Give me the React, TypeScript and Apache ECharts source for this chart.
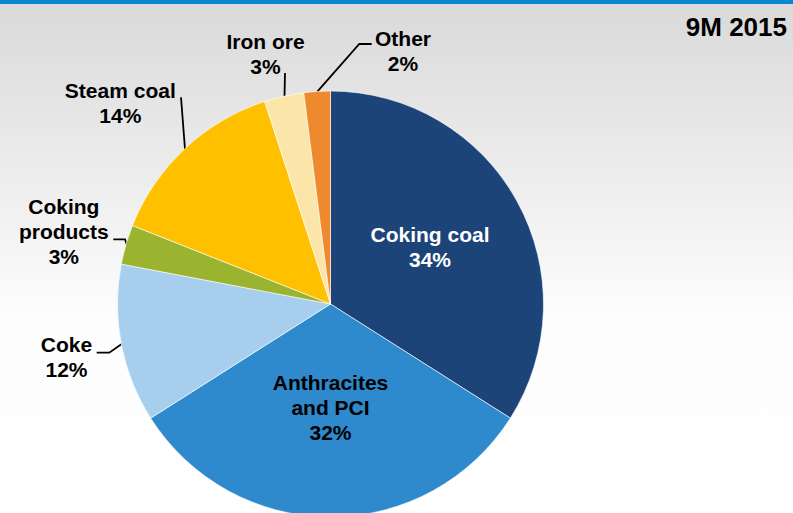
import React, { useEffect, useRef } from "react";
import * as echarts from "echarts";

const categories = [
  "Coking coal",
  "Anthracites and PCI",
  "Coke",
  "Coking products",
  "Steam coal",
  "Iron ore",
  "Other",
];
const shares = [34, 32, 12, 3, 14, 3, 2];
const sliceColors = ["#1c4479", "#2e89cd", "#a7ceed", "#9bb42f", "#ffc000", "#fbe5a8", "#ee8a2d"];
const periodLabel = "9M 2015";

// label anchor (block centre) and leader line points, per slice (layout only)
const labelSpots: [number, number][] = [
  [430, 246.5],
  [330.5, 407],
  [66.5, 357],
  [63.8, 231.5],
  [120.3, 103],
  [265.5, 54],
  [403, 50.5],
];
const leaderLines: ([number, number][] | null)[] = [
  null,
  null,
  [[96.7, 352.7], [109.3, 352.7], [121.7, 344]],
  [[113.3, 239.3], [125, 239.3], [126.7, 244.3]],
  [[181, 97.3], [185, 149.3]],
  [[285, 73], [284.5, 96]],
  [[371.7, 44], [359.3, 44], [317.3, 91.7]],
];
const insideIdx = [0, 1];

const wrapName = (n: string) =>
  n === "Anthracites and PCI" ? "Anthracites\nand PCI" : n === "Coking products" ? "Coking\nproducts" : n;

export default function App() {
  const ref = useRef<HTMLDivElement>(null);
  useEffect(() => {
    if (!ref.current) return;
    const chart = echarts.init(ref.current, null, { renderer: "svg" });
    const font = "'Liberation Sans', Arial, sans-serif";
    chart.setOption({
      animation: false,
      backgroundColor: {
        type: "linear",
        x: 0,
        y: 0,
        x2: 0,
        y2: 1,
        colorStops: [
          { offset: 0, color: "#d9d9d9" },
          { offset: 0.62, color: "#fdfdfd" },
          { offset: 1, color: "#ffffff" },
        ],
      },
      title: {
        text: periodLabel,
        right: 6,
        top: 14,
        padding: 0,
        textStyle: { fontSize: 26, fontWeight: "bold", color: "#000", fontFamily: font },
      },
      graphic: [
        { type: "rect", shape: { x: 0, y: 0, width: 793, height: 4 }, style: { fill: "#0787cf" }, z: 10 },
      ],
      series: [
        {
          type: "pie",
          center: [330.5, 304],
          radius: 213,
          startAngle: 90,
          clockwise: true,
          avoidLabelOverlap: false,
          itemStyle: { borderColor: "#ffffff", borderWidth: 0.6 },
          label: {
            show: true,
            position: "outside",
            overflow: "none",
            fontFamily: font,
            fontSize: 21,
            fontWeight: "bold",
            lineHeight: 25,
            color: "#000",
            align: "center",
            formatter: (p: any) => wrapName(p.name) + "\n" + p.value + "%",
          },
          labelLine: { show: true, lineStyle: { color: "#000", width: 1.8 } },
          labelLayout: (p: any) => {
            const i = p.dataIndex;
            const out: any = {
              x: labelSpots[i][0],
              y: labelSpots[i][1],
              align: "center",
              verticalAlign: "middle",
            };
            if (leaderLines[i]) out.labelLinePoints = leaderLines[i];
            return out;
          },
          data: categories.map((name, i) => ({
            name,
            value: shares[i],
            itemStyle: { color: sliceColors[i] },
            label: insideIdx.includes(i)
              ? { position: "inside", color: i === 0 ? "#ffffff" : "#000000" }
              : undefined,
            labelLine: insideIdx.includes(i) ? { show: false } : undefined,
          })),
        },
      ],
    });
    return () => chart.dispose();
  }, []);
  return (
    <div
      ref={ref}
      style={{ position: "fixed", left: 0, top: 0, width: 793, height: 513 }}
    />
  );
}
